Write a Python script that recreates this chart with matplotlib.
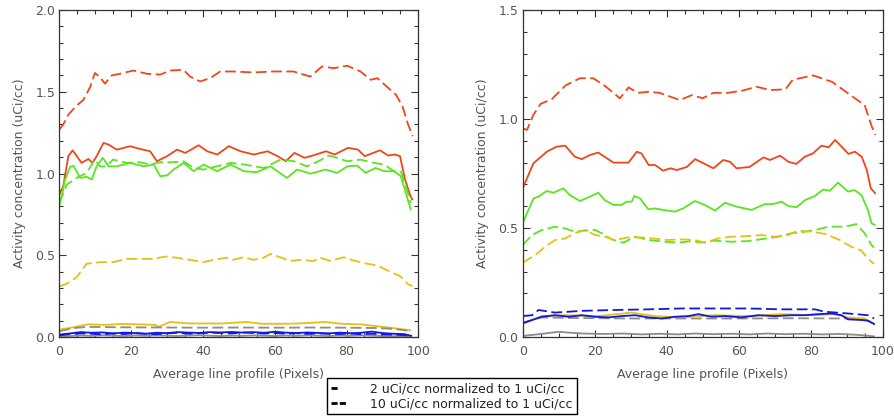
import matplotlib
matplotlib.use('Agg')
import matplotlib.pyplot as plt
from matplotlib.lines import Line2D
from matplotlib.ticker import MultipleLocator

RED = '#f0461a'
GREEN = '#5ae61e'
YELLOW = '#e8bf12'
BLUE = '#1018e0'
GREY = '#8c8c8c'
TXT = '#555555'
DASH = (0, (6, 2.5))

# ---- left panel ----
l_red_dash_x = [0, 1.1, 2.5, 4.8, 6.7, 8.6, 9.9, 11.3, 12.7, 14.6, 16.9, 20.6, 24.4, 28.1, 30.9, 34.6, 36.4,
                39.2, 42.0, 44.8, 48.5, 54.1, 59.7, 65.2, 69.9, 73.2, 76.4, 80.2, 83.9, 86.7, 88.6, 91.4,
                93.8, 95.6, 97.0, 98.4]
l_red_dash_y = [1.27, 1.30, 1.36, 1.415, 1.45, 1.53, 1.615, 1.59, 1.55, 1.60, 1.61, 1.63, 1.61, 1.605, 1.63,
                1.634, 1.593, 1.563, 1.583, 1.624, 1.624, 1.618, 1.624, 1.624, 1.593, 1.655, 1.644, 1.659,
                1.624, 1.573, 1.583, 1.528, 1.481, 1.41, 1.31, 1.228]

l_red_x = [0, 1.1, 2.5, 3.7, 6.2, 8.1, 9.2, 10.4, 12.3, 13.7, 16.0, 19.7, 22.5, 25.3, 27.2, 30.0, 32.8, 35.1,
           38.8, 41.2, 44.0, 47.2, 50.5, 54.2, 58.0, 60.8, 63.1, 65.5, 68.3, 70.6, 74.3, 76.7, 80.4, 83.2,
           85.1, 89.3, 91.6, 93.5, 94.9, 96.3, 97.8, 98.3]
l_red_y = [0.872, 0.923, 1.106, 1.142, 1.065, 1.089, 1.065, 1.106, 1.187, 1.177, 1.146, 1.167, 1.15, 1.136,
           1.075, 1.106, 1.146, 1.126, 1.173, 1.136, 1.116, 1.167, 1.136, 1.116, 1.136, 1.106, 1.075, 1.126,
           1.096, 1.11, 1.136, 1.116, 1.157, 1.146, 1.106, 1.142, 1.11, 1.116, 1.106, 0.963, 0.862, 0.842]

l_green_x = [0, 1.6, 3.0, 3.9, 5.8, 7.6, 9.0, 10.4, 12.1, 13.7, 16.0, 19.7, 23.5, 26.3, 28.1, 30.0, 31.8, 34.6,
             37.4, 40.2, 43.9, 47.7, 51.4, 55.0, 58.8, 63.4, 66.2, 70.0, 74.2, 77.4, 80.2, 83.0, 85.3, 88.1,
             90.5, 93.2, 95.1, 96.5, 97.9]
l_green_y = [0.80, 0.963, 1.04, 1.048, 0.973, 0.98, 0.963, 1.044, 1.096, 1.044, 1.044, 1.065, 1.044, 1.055,
             0.984, 0.988, 1.024, 1.065, 1.014, 1.055, 1.014, 1.055, 1.014, 1.008, 1.044, 0.973, 1.024, 0.999,
             1.024, 1.004, 1.044, 1.048, 1.004, 1.034, 1.014, 1.014, 0.984, 0.882, 0.78]

l_green_dash_x = [0, 2.1, 4.8, 7.6, 9.9, 11.3, 13.1, 15.0, 18.8, 22.5, 25.3, 28.1, 31.8, 34.6, 37.4, 40.2, 43.9,
                  47.7, 51.4, 57.0, 61.6, 65.4, 69.0, 72.2, 75.0, 77.3, 80.2, 83.9, 87.6, 90.5, 93.2, 95.1,
                  96.5, 97.9]
l_green_dash_y = [0.82, 0.933, 0.973, 1.004, 1.085, 1.044, 1.044, 1.085, 1.065, 1.069, 1.055, 1.069, 1.069,
                  1.075, 1.034, 1.024, 1.044, 1.065, 1.055, 1.034, 1.085, 1.075, 1.044, 1.075, 1.11, 1.096,
                  1.075, 1.085, 1.065, 1.055, 1.014, 1.014, 0.923, 0.82]

l_yellow_dash_x = [0, 2.0, 4.8, 7.6, 11.3, 15.0, 18.8, 22.5, 26.3, 29.5, 32.7, 36.4, 40.1, 42.9, 46.7, 48.5,
                   51.3, 54.1, 56.9, 58.8, 61.5, 64.3, 67.1, 70.8, 72.7, 75.5, 79.2, 82.0, 85.8, 88.5, 92.3,
                   95.1, 97.0, 98.4]
l_yellow_dash_y = [0.31, 0.325, 0.365, 0.448, 0.458, 0.458, 0.478, 0.478, 0.478, 0.492, 0.485, 0.472, 0.458,
                   0.472, 0.485, 0.472, 0.488, 0.472, 0.485, 0.508, 0.488, 0.465, 0.472, 0.465, 0.485, 0.465,
                   0.488, 0.468, 0.448, 0.438, 0.398, 0.37, 0.325, 0.31]

l_yellow_x = [0, 4, 8.1, 12.7, 17.4, 23.0, 26.7, 27.6, 30.9, 36.0, 40.6, 45.3, 52.3, 56.4, 63.9, 69.4, 74.1,
              78.7, 84.3, 88.0, 91.7, 95.4, 97.7]
l_yellow_y = [0.045, 0.06, 0.078, 0.074, 0.08, 0.077, 0.074, 0.062, 0.092, 0.083, 0.083, 0.083, 0.092, 0.081,
              0.081, 0.086, 0.092, 0.081, 0.077, 0.067, 0.058, 0.048, 0.042]

l_grey_dash_x = [0, 4, 8, 14, 20, 30, 40, 50, 60, 70, 80, 88, 93, 96, 98]
l_grey_dash_y = [0.035, 0.055, 0.062, 0.06, 0.059, 0.058, 0.057, 0.058, 0.057, 0.058, 0.057, 0.055, 0.05,
                 0.042, 0.035]

l_blue_x = [0, 3, 6, 9, 12, 15, 18, 21, 24, 27, 30, 33, 36, 39, 42, 45, 48, 51, 54, 57, 60, 63, 66, 69, 72,
            75, 78, 81, 84, 87, 90, 93, 96, 98]
l_blue_y = [0.015, 0.022, 0.03, 0.026, 0.028, 0.022, 0.027, 0.024, 0.02, 0.026, 0.024, 0.03, 0.027, 0.025,
            0.03, 0.028, 0.031, 0.027, 0.03, 0.026, 0.032, 0.027, 0.024, 0.028, 0.025, 0.022, 0.027, 0.023,
            0.026, 0.033, 0.024, 0.02, 0.018, 0.008]
l_blue_dash_y = [0.01, 0.018, 0.022, 0.02, 0.016, 0.022, 0.018, 0.024, 0.02, 0.017, 0.022, 0.026, 0.02, 0.023,
                 0.027, 0.024, 0.022, 0.028, 0.025, 0.021, 0.024, 0.02, 0.023, 0.019, 0.022, 0.02, 0.018,
                 0.021, 0.017, 0.02, 0.016, 0.014, 0.012, 0.006]
l_grey_y = [0.004, 0.006, 0.009, 0.007, 0.01, 0.008, 0.006, 0.009, 0.007, 0.01, 0.008, 0.006, 0.009, 0.011,
            0.008, 0.006, 0.009, 0.007, 0.01, 0.008, 0.006, 0.009, 0.007, 0.01, 0.008, 0.006, 0.009, 0.007,
            0.01, 0.008, 0.006, 0.005, 0.004, 0.002]

# ---- right panel ----
r_red_dash_x = [0, 1.2, 3.0, 5.0, 8.0, 12.0, 15.9, 19.6, 23.0, 27.0, 29.4, 32.0, 35.0, 38.0, 43.7, 47.0, 50.0,
                53.0, 57.0, 61.0, 65.0, 68.7, 73.0, 75.0, 80.7, 86.0, 91.0, 95.0, 97.0, 98.0]
r_red_dash_y = [0.957, 0.95, 1.02, 1.07, 1.09, 1.155, 1.187, 1.187, 1.15, 1.095, 1.145, 1.12, 1.125, 1.12,
                1.087, 1.11, 1.095, 1.12, 1.12, 1.13, 1.148, 1.133, 1.136, 1.18, 1.2, 1.17, 1.11, 1.064,
                0.965, 0.927]

r_red_x = [0, 3, 6.7, 9.4, 11.8, 14.5, 16.4, 18.7, 21, 25.2, 29.4, 31.7, 33, 35, 36.8, 39, 41, 42.8, 45.6,
           47.9, 53, 55.7, 57.6, 59.4, 63, 66.9, 68.7, 71.5, 73.8, 76, 78.4, 80.7, 83, 85, 86.8, 88.6, 90.5,
           92.3, 94.2, 95.6, 96.7, 97.9]
r_red_y = [0.682, 0.797, 0.85, 0.873, 0.878, 0.827, 0.816, 0.835, 0.846, 0.80, 0.80, 0.85, 0.842, 0.789,
           0.789, 0.763, 0.774, 0.766, 0.78, 0.816, 0.774, 0.812, 0.804, 0.774, 0.78, 0.824, 0.812, 0.832,
           0.804, 0.794, 0.827, 0.843, 0.878, 0.87, 0.904, 0.873, 0.84, 0.85, 0.827, 0.766, 0.682, 0.66]

r_green_x = [0, 3.0, 4.4, 6.7, 8.5, 11.3, 13.1, 15.9, 18.7, 21, 22.8, 25.2, 27.4, 28.9, 30.3, 31.0, 32.6,
             34.9, 36.7, 39.0, 42.2, 44.6, 47.8, 50.6, 53.4, 56.2, 59.4, 63.6, 67.3, 69.6, 71.9, 73.8, 76.1,
             78.4, 81.2, 83.5, 85.3, 87.6, 90.4, 92.2, 94.1, 95.9, 96.9, 97.8]
r_green_y = [0.522, 0.636, 0.644, 0.67, 0.662, 0.682, 0.651, 0.624, 0.644, 0.662, 0.628, 0.606, 0.606, 0.621,
             0.621, 0.647, 0.636, 0.586, 0.59, 0.583, 0.575, 0.59, 0.624, 0.606, 0.58, 0.616, 0.598, 0.583,
             0.61, 0.61, 0.621, 0.601, 0.595, 0.628, 0.647, 0.677, 0.671, 0.708, 0.667, 0.674, 0.651, 0.583,
             0.522, 0.514]

r_green_dash_x = [0, 2.6, 5.3, 9.0, 11.8, 14.5, 17.3, 20.1, 22.0, 24.7, 28.0, 31.2, 34.9, 39.5, 43.2, 46.9,
                  49.7, 53.4, 58.0, 62.6, 67.3, 71.0, 74.6, 78.4, 82.1, 84.9, 89.5, 92.7, 95.0, 96.9, 97.6]
r_green_dash_y = [0.422, 0.468, 0.491, 0.506, 0.498, 0.483, 0.488, 0.491, 0.476, 0.448, 0.433, 0.46, 0.445,
                  0.437, 0.433, 0.44, 0.433, 0.442, 0.437, 0.44, 0.451, 0.46, 0.476, 0.483, 0.494, 0.506,
                  0.506, 0.518, 0.476, 0.422, 0.41]

r_yellow_dash_x = [0, 3.5, 6.2, 9.0, 11.8, 14.5, 17.3, 20.1, 22.8, 25.6, 29.3, 33.0, 36.7, 40.4, 44.1, 47.8,
                   50.6, 54.3, 58.0, 62.6, 66.4, 70.0, 73.8, 76.5, 80.3, 84.0, 87.7, 91.3, 94.1, 95.9, 97.6]
r_yellow_dash_y = [0.341, 0.376, 0.414, 0.445, 0.452, 0.476, 0.491, 0.468, 0.46, 0.445, 0.457, 0.457, 0.451,
                   0.445, 0.448, 0.445, 0.433, 0.452, 0.46, 0.463, 0.468, 0.46, 0.468, 0.488, 0.483, 0.473,
                   0.448, 0.414, 0.396, 0.36, 0.335]

r_blue_dash_x = [0, 2.6, 4.4, 9.0, 16.4, 25.6, 34.9, 44.1, 53.4, 62.6, 71.9, 81.2, 83.9, 90.4, 95.9, 97.6]
r_blue_dash_y = [0.096, 0.10, 0.124, 0.112, 0.12, 0.124, 0.127, 0.131, 0.131, 0.131, 0.127, 0.127, 0.116,
                 0.108, 0.10, 0.085]

r_blue_x = [0, 2.6, 5.3, 9.0, 12.7, 16.4, 20.1, 23.8, 27.5, 31.2, 34.9, 38.6, 42.3, 46.0, 48.8, 52.5, 56.2,
            60.8, 65.5, 70.1, 74.7, 78.4, 82.1, 85.8, 88.6, 90.4, 94.1, 95.9, 97.6]
r_blue_y = [0.063, 0.078, 0.093, 0.10, 0.093, 0.10, 0.093, 0.09, 0.096, 0.10, 0.09, 0.085, 0.093, 0.096,
            0.105, 0.093, 0.096, 0.09, 0.10, 0.096, 0.10, 0.10, 0.105, 0.108, 0.10, 0.081, 0.078, 0.075, 0.06]

r_yellow_x = [0, 5.3, 11.8, 20.9, 30.3, 36.7, 44.0, 53.4, 62.6, 71.9, 81.2, 86.6, 90.4, 95.0, 97.6]
r_yellow_y = [0.06, 0.096, 0.10, 0.096, 0.112, 0.096, 0.09, 0.10, 0.096, 0.105, 0.10, 0.105, 0.09, 0.085, 0.06]

r_grey_dash_x = [0, 5.3, 15, 30, 45, 60, 75, 90, 95, 97.6]
r_grey_dash_y = [0.066, 0.09, 0.087, 0.085, 0.085, 0.085, 0.086, 0.085, 0.08, 0.063]

r_grey_x = [0, 4, 8, 10, 13, 17, 22, 28, 33, 38, 43, 48, 53, 58, 63, 68, 73, 78, 83, 88, 93, 97.6]
r_grey_y = [0.005, 0.012, 0.02, 0.024, 0.02, 0.016, 0.014, 0.016, 0.012, 0.015, 0.012, 0.016, 0.013, 0.015,
            0.012, 0.016, 0.013, 0.015, 0.012, 0.014, 0.01, 0.003]

legend_labels = ['2 uCi/cc normalized to 1 uCi/cc', '10 uCi/cc normalized to 1 uCi/cc']


def style_axis(ax, ymax):
    ax.set_xlim(0, 100)
    ax.set_ylim(0, ymax)
    ax.xaxis.set_major_locator(MultipleLocator(20))
    ax.xaxis.set_minor_locator(MultipleLocator(5))
    ax.yaxis.set_major_locator(MultipleLocator(0.5))
    ax.yaxis.set_minor_locator(MultipleLocator(0.1))
    ax.tick_params(which='both', direction='in', top=True, right=True, colors='#333333',
                   labelcolor=TXT, labelsize=9)
    ax.tick_params(which='major', length=5, width=0.8)
    ax.tick_params(which='minor', length=3, width=0.8)
    ax.tick_params(axis='x', pad=6)
    ax.tick_params(axis='y', pad=3)
    ax.yaxis.set_major_formatter(plt.FormatStrFormatter('%.1f'))
    for sp in ax.spines.values():
        sp.set_color('#333333')
        sp.set_linewidth(0.9)
    ax.set_xlabel('Average line profile (Pixels)', color=TXT, fontsize=9)
    ax.set_ylabel('Activity concentration (uCi/cc)', color=TXT, fontsize=9)
    ax.xaxis.set_label_coords(0.5, -0.095)
    ax.yaxis.set_label_coords(-0.093, 0.5)


fig = plt.figure(figsize=(8.95, 4.17), dpi=100)
ax1 = fig.add_axes([0.0663, 0.1918, 0.4011, 0.7842])
ax2 = fig.add_axes([0.5840, 0.1918, 0.4022, 0.7842])
lw = 1.3

ax1.plot(l_red_dash_x, l_red_dash_y, color=RED, lw=lw, ls=DASH)
ax1.plot(l_red_x, l_red_y, color=RED, lw=lw)
ax1.plot(l_green_dash_x, l_green_dash_y, color=GREEN, lw=lw, ls=DASH)
ax1.plot(l_green_x, l_green_y, color=GREEN, lw=lw)
ax1.plot(l_yellow_dash_x, l_yellow_dash_y, color=YELLOW, lw=lw, ls=DASH)
ax1.plot(l_yellow_x, l_yellow_y, color=YELLOW, lw=lw)
ax1.plot(l_grey_dash_x, l_grey_dash_y, color=GREY, lw=lw, ls=DASH)
ax1.plot(l_blue_x, l_grey_y, color=GREY, lw=lw)
ax1.plot(l_blue_x, l_blue_dash_y, color=BLUE, lw=lw, ls=DASH)
ax1.plot(l_blue_x, l_blue_y, color=BLUE, lw=lw)
style_axis(ax1, 2.0)

ax2.plot(r_red_dash_x, r_red_dash_y, color=RED, lw=lw, ls=DASH)
ax2.plot(r_red_x, r_red_y, color=RED, lw=lw)
ax2.plot(r_green_x, r_green_y, color=GREEN, lw=lw)
ax2.plot(r_green_dash_x, r_green_dash_y, color=GREEN, lw=lw, ls=DASH)
ax2.plot(r_yellow_dash_x, r_yellow_dash_y, color=YELLOW, lw=lw, ls=DASH)
ax2.plot(r_grey_x, r_grey_y, color=GREY, lw=lw)
ax2.plot(r_grey_dash_x, r_grey_dash_y, color=GREY, lw=lw, ls=DASH)
ax2.plot(r_yellow_x, r_yellow_y, color=YELLOW, lw=lw)
ax2.plot(r_blue_dash_x, r_blue_dash_y, color=BLUE, lw=lw, ls=DASH)
ax2.plot(r_blue_x, r_blue_y, color=BLUE, lw=lw)
style_axis(ax2, 1.5)

handles = [Line2D([], [], color='black', lw=2, ls=(0, (2.2, 12))),
           Line2D([], [], color='black', lw=2, ls=(0, (2.2, 0.8, 2.2, 12)))]
leg = fig.legend(handles, legend_labels, loc='center', bbox_to_anchor=(0.5045, 0.050),
                 fontsize=9, handlelength=1.5, handletextpad=1.6, labelspacing=0.15,
                 borderpad=0.35, fancybox=False, framealpha=1, edgecolor='black')
leg.get_frame().set_linewidth(1.0)
for t in leg.get_texts():
    t.set_color('#222222')

fig.savefig('out.png', dpi=100)
